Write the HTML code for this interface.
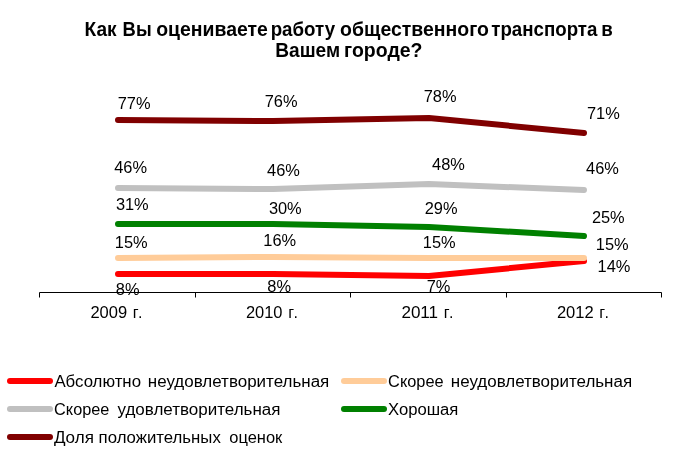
<!DOCTYPE html>
<html><head><meta charset="utf-8">
<style>
html,body{margin:0;padding:0;background:#fff;}
body{width:678px;height:452px;overflow:hidden;}
svg{display:block;will-change:transform;}
text{font-family:"Liberation Sans",sans-serif;fill:#000;font-size:16px;}
.t text{font-size:20px;font-weight:bold;}
.ln{fill:none;stroke-width:6;stroke-linecap:round;stroke-linejoin:round;}
</style></head><body>
<svg width="678" height="452" viewBox="0 0 678 452">
<rect width="678" height="452" fill="#fff"/>
<g class="t">
<text x="84.5" y="36" textLength="32.1" lengthAdjust="spacingAndGlyphs">Как</text>
<text x="122.6" y="36" textLength="29.0" lengthAdjust="spacingAndGlyphs">Вы</text>
<text x="156.2" y="36" textLength="111.7" lengthAdjust="spacingAndGlyphs">оцениваете</text>
<text x="270.7" y="36" textLength="64.4" lengthAdjust="spacingAndGlyphs">работу</text>
<text x="340.1" y="36" textLength="148.9" lengthAdjust="spacingAndGlyphs">общественного</text>
<text x="491.3" y="36" textLength="106.1" lengthAdjust="spacingAndGlyphs">транспорта</text>
<text x="601.2" y="36" textLength="11.5" lengthAdjust="spacingAndGlyphs">в</text>
<text x="275.2" y="57" textLength="64.9" lengthAdjust="spacingAndGlyphs">Вашем</text>
<text x="344.1" y="57" textLength="78.4" lengthAdjust="spacingAndGlyphs">городе?</text>
</g>
<path d="M39.5 297.5V292.5H661.5V297.5M195.5 292.5V297.5M350.5 292.5V297.5M506.5 292.5V297.5" fill="none" stroke="#000" stroke-width="1"/>
<polyline class="ln" stroke="#ff0000" points="118,274 273,274 429,276 584,261"/>
<polyline class="ln" stroke="#ffcc99" points="118,258 273,257 429,258 584,258"/>
<polyline class="ln" stroke="#c0c0c0" points="118,188 273,189 429,184 584,190"/>
<polyline class="ln" stroke="#008000" points="118,224 273,224 429,227 584,236"/>
<polyline class="ln" stroke="#800000" points="118,120 273,121 429,118 584,133"/>
<g>
<text x="117.7" y="109" textLength="32.8" lengthAdjust="spacingAndGlyphs">77%</text>
<text x="264.7" y="107" textLength="32.8" lengthAdjust="spacingAndGlyphs">76%</text>
<text x="423.7" y="102" textLength="32.8" lengthAdjust="spacingAndGlyphs">78%</text>
<text x="587.0" y="119" textLength="32.8" lengthAdjust="spacingAndGlyphs">71%</text>
<text x="114.2" y="173" textLength="32.8" lengthAdjust="spacingAndGlyphs">46%</text>
<text x="267.1" y="176" textLength="32.8" lengthAdjust="spacingAndGlyphs">46%</text>
<text x="432.1" y="170" textLength="32.8" lengthAdjust="spacingAndGlyphs">48%</text>
<text x="586.1" y="174" textLength="32.8" lengthAdjust="spacingAndGlyphs">46%</text>
<text x="115.9" y="210" textLength="32.8" lengthAdjust="spacingAndGlyphs">31%</text>
<text x="268.9" y="214" textLength="32.8" lengthAdjust="spacingAndGlyphs">30%</text>
<text x="424.7" y="214" textLength="32.8" lengthAdjust="spacingAndGlyphs">29%</text>
<text x="591.9" y="223" textLength="32.8" lengthAdjust="spacingAndGlyphs">25%</text>
<text x="114.8" y="248" textLength="32.8" lengthAdjust="spacingAndGlyphs">15%</text>
<text x="263.3" y="246" textLength="32.8" lengthAdjust="spacingAndGlyphs">16%</text>
<text x="422.8" y="248" textLength="32.8" lengthAdjust="spacingAndGlyphs">15%</text>
<text x="595.8" y="250" textLength="32.8" lengthAdjust="spacingAndGlyphs">15%</text>
<text x="115.8" y="295" textLength="23.7" lengthAdjust="spacingAndGlyphs">8%</text>
<text x="267.3" y="292" textLength="23.7" lengthAdjust="spacingAndGlyphs">8%</text>
<text x="426.7" y="292" textLength="23.7" lengthAdjust="spacingAndGlyphs">7%</text>
<text x="597.6" y="272" textLength="32.8" lengthAdjust="spacingAndGlyphs">14%</text>
</g>
<g>
<text x="90.4" y="318" textLength="36.7" lengthAdjust="spacingAndGlyphs">2009</text>
<text x="245.9" y="318" textLength="36.6" lengthAdjust="spacingAndGlyphs">2010</text>
<text x="401.4" y="318" textLength="36.7" lengthAdjust="spacingAndGlyphs">2011</text>
<text x="556.9" y="318" textLength="36.8" lengthAdjust="spacingAndGlyphs">2012</text>
<text x="132.8" y="318">г<tspan dx="1.4">.</tspan></text>
<text x="288.3" y="318">г<tspan dx="1.4">.</tspan></text>
<text x="443.8" y="318">г<tspan dx="1.4">.</tspan></text>
<text x="599.3" y="318">г<tspan dx="1.4">.</tspan></text>
</g>
<g class="ln">
<path stroke="#ff0000" d="M10 381H50"/>
<path stroke="#c0c0c0" d="M10 409H50"/>
<path stroke="#800000" d="M10 437H50"/>
<path stroke="#ffcc99" d="M344 381H384"/>
<path stroke="#008000" d="M344 409H384"/>
</g>
<g>
<text x="54.4" y="387" textLength="86.6" lengthAdjust="spacingAndGlyphs">Абсолютно</text>
<text x="147.8" y="387" textLength="181.5" lengthAdjust="spacingAndGlyphs">неудовлетворительная</text>
<text x="54.1" y="415" textLength="55.3" lengthAdjust="spacingAndGlyphs">Скорее</text>
<text x="117.5" y="415" textLength="163.0" lengthAdjust="spacingAndGlyphs">удовлетворительная</text>
<text x="53.9" y="443" textLength="40.0" lengthAdjust="spacingAndGlyphs">Доля</text>
<text x="98.6" y="443" textLength="122.2" lengthAdjust="spacingAndGlyphs">положительных</text>
<text x="229.3" y="443" textLength="53.0" lengthAdjust="spacingAndGlyphs">оценок</text>
<text x="388.1" y="387" textLength="55.5" lengthAdjust="spacingAndGlyphs">Скорее</text>
<text x="450.8" y="387" textLength="181.3" lengthAdjust="spacingAndGlyphs">неудовлетворительная</text>
<text x="388.0" y="415" textLength="70.3" lengthAdjust="spacingAndGlyphs">Хорошая</text>
</g>
</svg>
</body></html>
